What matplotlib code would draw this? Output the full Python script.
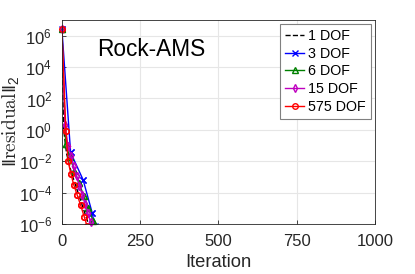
import matplotlib
matplotlib.use("Agg")
import matplotlib.pyplot as plt
import numpy as np
from matplotlib.ticker import FixedLocator, FuncFormatter, NullLocator

plt.rcParams['font.family'] = ['Liberation Sans', 'DejaVu Sans']
plt.rcParams['mathtext.default'] = 'regular'

# data: (iteration, log10 residual)
it_1 = [0, 3, 6, 15, 30, 50, 70, 90]
lg_1 = [6.45, 3.0, 0.0, -1.5, -2.7, -3.9, -5.1, -6.3]

it_3 = [0, 28, 68, 97, 105]
lg_3 = [6.45, -1.44, -3.19, -5.3, -6.1]

it_6 = [0, 12, 25, 40, 55, 70, 85, 100, 108]
lg_6 = [6.45, -0.9, -1.7, -2.6, -3.4, -4.2, -5.0, -5.8, -6.2]

it_15 = [0, 10, 20, 29, 38, 47, 56, 65, 74, 83, 92, 101]
lg_15 = [6.45, 0.34, -1.05, -1.65, -2.3, -2.95, -3.55, -4.15, -4.72, -5.3, -5.9, -6.3]

it_575 = [0, 13, 20, 29, 38, 49, 60, 72, 80]
lg_575 = [6.45, -0.1, -2.0, -2.8, -3.5, -4.15, -4.8, -5.57, -6.1]

labels = ['1 DOF', '3 DOF', '6 DOF', '15 DOF', '575 DOF']
xticks = [0, 250, 500, 750, 1000]
yexp = [-6, -4, -2, 0, 2, 4, 6]

fig = plt.figure(figsize=(4.15, 2.74), dpi=100)
ax = fig.add_axes([0.149, 0.1825, 0.755, 0.7445])

ms = 4
YMIN, YMAX = 1e-6, 1e7

def draw(it, lg, label, **kw):
    x = np.array(it, dtype=float)
    y = 10.0 ** np.array(lg)
    line, = ax.semilogy(x, y, label=label, **kw)
    if kw.get('marker'):
        keep = y >= YMIN
        ax.semilogy(x[keep], y[keep], ls='none', clip_on=False, zorder=line.get_zorder(),
                    **{k: v for k, v in kw.items() if k not in ('ls', 'lw')})
    return line

draw(it_1, lg_1, labels[0], color='k', ls='--', lw=1)
draw(it_3, lg_3, labels[1], color='b', marker='x', ms=ms, lw=1)
draw(it_6, lg_6, labels[2], color=(0, 0.5, 0), marker='^', ms=ms, mfc='none', lw=1)
draw(it_15, lg_15, labels[3], color='m', marker='d', ms=ms, mfc='none', lw=1)
draw(it_575, lg_575, labels[4], color='r', marker='o', ms=ms, mfc='none', lw=1)

ax.set_xlim(0, 1000)
ax.set_ylim(YMIN, YMAX)
ax.xaxis.set_major_locator(FixedLocator(xticks))
ax.yaxis.set_major_locator(FixedLocator([10.0 ** e for e in yexp]))
ax.yaxis.set_minor_locator(NullLocator())
ax.yaxis.set_major_formatter(FuncFormatter(lambda v, p: r'$10^{%d}$' % int(round(np.log10(v)))))

ax.grid(True, color='#e6e6e6', lw=0.8)
ax.set_axisbelow(True)
for s in ax.spines.values():
    s.set_color('#262626')
    s.set_linewidth(0.6)
ax.tick_params(direction='in', length=3, width=0.6, colors='#262626', labelsize=12)
ax.tick_params(axis='x', pad=7)
ax.tick_params(axis='y', pad=7)

ax.set_xlabel('Iteration', fontsize=13.2, color='#262626', labelpad=4)
fig.text(0.025, 0.555, r'$\|\mathrm{residual}\|_2$', fontsize=14, color='#262626',
         math_fontfamily='cm', rotation=90, ha='center', va='center')

ax.text(0.112, 0.853, 'Rock-AMS', transform=ax.transAxes, fontsize=16.3, ha='left', va='center', color='k')

leg = ax.legend(loc='upper right', fontsize=10.3, handlelength=1.3, handletextpad=0.3,
                labelspacing=0.25, borderpad=0.35, borderaxespad=0.3, fancybox=False,
                framealpha=1, edgecolor='#808080')
leg.get_frame().set_linewidth(0.8)

fig.savefig('out.png', dpi=100)
